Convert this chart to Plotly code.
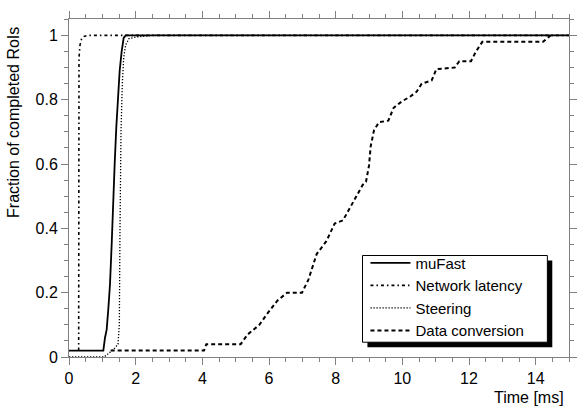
import plotly.graph_objects as go

# ---- data ----
mufast_x = [0, 1.03, 1.08, 1.13, 1.18, 1.23, 1.28, 1.32, 1.37, 1.42, 1.47, 1.52, 1.58, 1.64, 1.7, 15]
mufast_y = [0.02, 0.02, 0.06, 0.085, 0.15, 0.226, 0.35, 0.481, 0.6, 0.716, 0.8, 0.89, 0.95, 0.992, 1.0, 1.0]

netlat_x = [0.29, 0.29, 0.30, 0.33, 0.38, 0.45, 0.55, 15]
netlat_y = [0.02, 0.5, 0.93, 0.97, 0.99, 0.997, 1.0, 1.0]

steer_x = [0, 1.05, 1.2, 1.35, 1.47, 1.51, 1.53, 1.56, 1.6, 1.64, 1.7, 1.8, 2.0, 2.5, 15]
steer_y = [0, 0, 0.012, 0.025, 0.04, 0.1, 0.4, 0.7, 0.85, 0.93, 0.97, 0.99, 0.995, 1.0, 1.0]

conv_x = [1.25, 4.05, 4.12, 5.15, 5.36, 5.71, 5.95, 6.25, 6.54, 6.99, 7.18, 7.43, 7.72, 7.97,
          8.22, 8.56, 8.81, 8.91, 9.0, 9.05, 9.15, 9.30, 9.58, 9.74, 9.99, 10.24, 10.43, 10.58,
          10.88, 11.02, 11.57, 11.71, 12.06, 12.21, 12.40, 14.22, 14.45]
conv_y = [0.02, 0.02, 0.04, 0.04, 0.07, 0.10, 0.135, 0.175, 0.2, 0.2, 0.24, 0.32, 0.36, 0.415,
          0.425, 0.49, 0.535, 0.545, 0.595, 0.655, 0.705, 0.73, 0.735, 0.775, 0.795, 0.81, 0.825,
          0.85, 0.86, 0.895, 0.9, 0.92, 0.92, 0.95, 0.98, 0.98, 1.0]

series_names = ["muFast", "Network latency", "Steering", "Data conversion"]
x_ticks = [0, 2, 4, 6, 8, 10, 12, 14]
y_ticks = [0, 0.2, 0.4, 0.6, 0.8, 1]

FONT = "Liberation Sans, Arial, Helvetica, sans-serif"

# plot-area geometry (pixels) used to place paper-referenced decorations
L, R, T, B = 68.5, 577.0, 14.0, 357.0
W, H = R - L, B - T


def px(x):
    return (x - L) / W


def py(y):
    return (B - y) / H


fig = go.Figure()
fig.add_trace(go.Scatter(x=mufast_x, y=mufast_y, mode="lines", name=series_names[0],
                         line=dict(color="black", width=1.8)))
fig.add_trace(go.Scatter(x=netlat_x, y=netlat_y, mode="lines", name=series_names[1],
                         line=dict(color="black", width=1.6, dash="3px,3px,1.5px,3px")))
fig.add_trace(go.Scatter(x=steer_x, y=steer_y, mode="lines", name=series_names[2],
                         line=dict(color="black", width=1.3, dash="1.3px,1.7px")))
fig.add_trace(go.Scatter(x=conv_x, y=conv_y, mode="lines", name=series_names[3],
                         line=dict(color="black", width=2, dash="4px,3px")))

axis_common = dict(
    showline=True, linecolor="#808080", linewidth=1, mirror="ticks",
    ticks="outside", ticklen=7, tickcolor="#808080", tickwidth=1,
    showgrid=False, zeroline=False,
    tickfont=dict(family=FONT, size=16, color="black"),
)

fig.update_xaxes(range=[0, 15], tickvals=x_ticks, ticktext=[str(v) for v in x_ticks],
                 minor=dict(dtick=0.5, ticklen=4, tickcolor="#808080", ticks="outside"),
                 **axis_common)
fig.update_yaxes(range=[0, 1.051], tickvals=y_ticks, ticktext=["0", "0.2", "0.4", "0.6", "0.8", "1"],
                 minor=dict(dtick=0.05, ticklen=4, tickcolor="#808080", ticks="outside"),
                 **axis_common)

# legend frame with drop shadow
fig.add_shape(type="rect", xref="paper", yref="paper",
              x0=px(372), x1=px(560), y0=py(347), y1=py(259),
              fillcolor="black", line=dict(width=0), layer="above")
fig.add_shape(type="rect", xref="paper", yref="paper",
              x0=px(367), x1=px(555), y0=py(342), y1=py(254),
              fillcolor="white", line=dict(color="black", width=1), layer="above")

fig.add_annotation(text="Fraction of completed RoIs", xref="paper", yref="paper",
                   x=px(12), y=py(119), textangle=-90,
                   xanchor="center", yanchor="middle", showarrow=False,
                   font=dict(family=FONT, size=16, color="black"))
fig.add_annotation(text="Time [ms]", xref="paper", yref="paper",
                   x=px(574), y=py(398),
                   xanchor="right", yanchor="middle", showarrow=False,
                   font=dict(family=FONT, size=16, color="black"))

fig.update_layout(
    width=588, height=410,
    margin=dict(l=L, r=588 - R, t=T, b=410 - B),
    paper_bgcolor="white", plot_bgcolor="white",
    showlegend=True,
    legend=dict(x=px(370), y=py(245), xanchor="left", yanchor="top",
                bgcolor="rgba(0,0,0,0)", borderwidth=0,
                font=dict(family=FONT, size=15, color="black"),
                itemwidth=40, tracegroupgap=0),
    font=dict(family=FONT, size=16, color="black"),
)

fig.write_html("out.html")
